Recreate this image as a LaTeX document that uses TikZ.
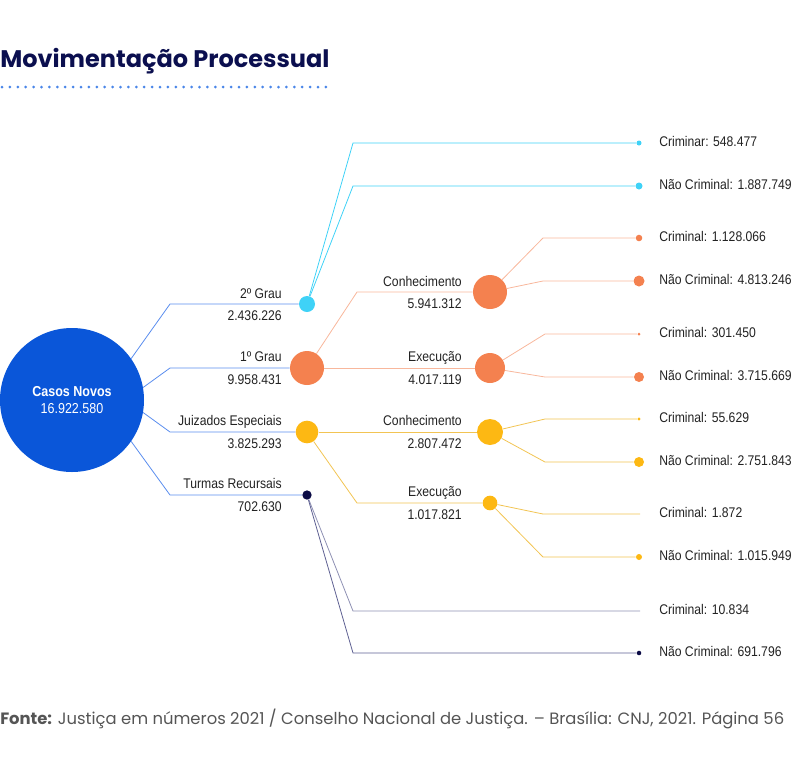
\documentclass[tikz,border=0pt]{standalone}
\usepackage{fontspec}
\setmainfont{Liberation Sans}[FakeStretch=0.87]
\newfontfamily\poppins{Poppins}
\definecolor{casosblue}{HTML}{0A56D9}
\definecolor{linkblue}{HTML}{5A8DEE}
\definecolor{pontoblue}{HTML}{4A86E8}
\definecolor{grauc}{HTML}{3FD2F7}
\definecolor{laranja}{HTML}{F4814F}
\definecolor{laranjalink}{HTML}{F8B79C}
\definecolor{amarelo}{HTML}{FDB813}
\definecolor{amarelolink}{HTML}{F2C453}
\definecolor{marinho}{HTML}{0B0B45}
\definecolor{marinholink}{HTML}{5E6092}
\definecolor{titulonavy}{HTML}{0B0F4F}
\definecolor{textogray}{HTML}{222222}
\definecolor{fontegray}{HTML}{555555}

\begin{document}
\begin{tikzpicture}[x=0.75pt,y=-0.75pt,
        bola/.style={circle,fill=#1,inner sep=0pt},
        lig/.style={draw=#1,line width=0.6pt},
        rotulo/.style={inner sep=0pt,text=textogray,font=\fontsize{10.5}{12}\selectfont},
        folha/.style={rotulo,anchor=mid west}]
        \useasboundingbox (0,0) rectangle (800,772) ;
        % titulo e pontilhado
        \node[anchor=base west,inner sep=0pt,text=titulonavy,
          font=\poppins\bfseries\fontsize{18}{21}\selectfont] (titulo) at (0,67) {Movimentação Processual} ;
        \foreach \i in {0,...,41}
          \fill[pontoblue] (2+\i*7.9,87) circle (1.5) ;
        % circulo principal
        \node[bola=casosblue,minimum size=108pt,text=white,align=center,
          font=\fontsize{10.8}{12.5}\selectfont] (casos) at (72,400)
          {\textbf{Casos Novos}\\16.922.580} ;
        % primeiro nivel
        \node[bola=grauc,minimum size=12pt] (grau2) at (307,304) {} ;
        \node[bola=laranja,minimum size=25.5pt] (grau1) at (307,368) {} ;
        \node[bola=amarelo,minimum size=17pt] (juiz) at (307,432) {} ;
        \node[bola=marinho,minimum size=7pt] (turmas) at (307,495) {} ;
        \coordinate (kg2) at (170,304) ;
        \coordinate (kg1) at (170,368) ;
        \coordinate (kju) at (170,432) ;
        \coordinate (ktu) at (170,495) ;
        \draw[lig=linkblue] (casos.35) -- (kg2) -- (grau2) ;
        \draw[lig=linkblue] (casos.10) -- (kg1) -- (grau1) ;
        \draw[lig=linkblue] (casos.-10) -- (kju) -- (juiz) ;
        \draw[lig=linkblue] (casos.-35) -- (ktu) -- (turmas) ;
        \node[rotulo,anchor=base east] (grau2a) at (282,298) {2º Grau} ;
        \node[rotulo,anchor=base east] (grau2b) at (282,320) {2.436.226} ;
        \node[rotulo,anchor=base east] (grau1a) at (282,361) {1º Grau} ;
        \node[rotulo,anchor=base east] (grau1b) at (282,384) {9.958.431} ;
        \node[rotulo,anchor=base east] (juiza) at (282,425) {Juizados Especiais} ;
        \node[rotulo,anchor=base east] (juizb) at (282,448) {3.825.293} ;
        \node[rotulo,anchor=base east] (turmasa) at (282,488) {Turmas Recursais} ;
        \node[rotulo,anchor=base east] (turmasb) at (282,511) {702.630} ;
        % segundo nivel
        \node[bola=laranja,minimum size=25.5pt] (conh1) at (490,292) {} ;
        \node[bola=laranja,minimum size=22.5pt] (exec1) at (490,368) {} ;
        \node[bola=amarelo,minimum size=19.5pt] (conh2) at (490,432) {} ;
        \node[bola=amarelo,minimum size=11pt] (exec2) at (490,503) {} ;
        \coordinate (kc1) at (357,292) ;
        \coordinate (ke2) at (357,503) ;
        \draw[lig=laranjalink] (grau1) -- (kc1) -- (conh1) ;
        \draw[lig=laranjalink] (grau1) -- (exec1) ;
        \draw[lig=amarelolink] (juiz) -- (conh2) ;
        \draw[lig=amarelolink] (juiz) -- (ke2) -- (exec2) ;
        \node[rotulo,anchor=base east] (conh1a) at (462,286) {Conhecimento} ;
        \node[rotulo,anchor=base east] (conh1b) at (462,308) {5.941.312} ;
        \node[rotulo,anchor=base east] (exec1a) at (462,361) {Execução} ;
        \node[rotulo,anchor=base east] (exec1b) at (462,384) {4.017.119} ;
        \node[rotulo,anchor=base east] (conh2a) at (462,425) {Conhecimento} ;
        \node[rotulo,anchor=base east] (conh2b) at (462,448) {2.807.472} ;
        \node[rotulo,anchor=base east] (exec2a) at (462,496) {Execução} ;
        \node[rotulo,anchor=base east] (exec2b) at (462,519) {1.017.821} ;
        % folhas
        \node[bola=grauc,minimum size=3.75pt] (f1) at (639,143) {} ;
        \node[bola=grauc,minimum size=5.25pt] (f2) at (639,186) {} ;
        \node[bola=laranja,minimum size=4.9pt] (f3) at (639,238) {} ;
        \node[bola=laranja,minimum size=8.25pt] (f4) at (639,281) {} ;
        \node[bola=laranja,minimum size=2.25pt] (f5) at (639,334) {} ;
        \node[bola=laranja,minimum size=7.5pt] (f6) at (639,377) {} ;
        \node[bola=amarelo,minimum size=2.6pt] (f7) at (639,419) {} ;
        \node[bola=amarelo,minimum size=7.5pt] (f8) at (639,462) {} ;
        \coordinate (f9) at (640,514) ;
        \node[bola=amarelo,minimum size=4.5pt] (f10) at (639,557) {} ;
        \coordinate (f11) at (640,611) ;
        \node[bola=marinho,minimum size=3.4pt] (f12) at (639,653) {} ;
        \draw[lig=grauc] (grau2) -- (353,143) -- (f1) ;
        \draw[lig=grauc] (grau2) -- (353,186) -- (f2) ;
        \draw[lig=laranjalink] (conh1) -- (543,238) -- (f3) ;
        \draw[lig=laranjalink] (conh1) -- (543,281) -- (f4) ;
        \draw[lig=laranjalink] (exec1) -- (545,334) -- (f5) ;
        \draw[lig=laranjalink] (exec1) -- (545,377) -- (f6) ;
        \draw[lig=amarelolink] (conh2) -- (545,419) -- (f7) ;
        \draw[lig=amarelolink] (conh2) -- (545,462) -- (f8) ;
        \draw[lig=amarelolink] (exec2) -- (543,514) -- (f9) ;
        \draw[lig=amarelolink] (exec2) -- (543,557) -- (f10) ;
        \draw[lig=marinholink!70] (turmas) -- (353,611) -- (f11) ;
        \draw[lig=marinholink] (turmas) -- (353,653) -- (f12) ;
        \node[folha] (t1) at (659,143) {Criminar: 548.477} ;
        \node[folha] (t2) at (659,186) {Não Criminal: 1.887.749} ;
        \node[folha] (t3) at (659,238) {Criminal: 1.128.066} ;
        \node[folha] (t4) at (659,281) {Não Criminal: 4.813.246} ;
        \node[folha] (t5) at (659,334) {Criminal: 301.450} ;
        \node[folha] (t6) at (659,377) {Não Criminal: 3.715.669} ;
        \node[folha] (t7) at (659,419) {Criminal: 55.629} ;
        \node[folha] (t8) at (659,462) {Não Criminal: 2.751.843} ;
        \node[folha] (t9) at (659,514) {Criminal: 1.872} ;
        \node[folha] (t10) at (659,557) {Não Criminal: 1.015.949} ;
        \node[folha] (t11) at (659,611) {Criminal: 10.834} ;
        \node[folha] (t12) at (659,653) {Não Criminal: 691.796} ;
        % fonte
        \node[anchor=base west,inner sep=0pt,text=fontegray,
          font=\poppins\fontsize{12.3}{14}\selectfont] (fonte) at (0,724)
          {\textbf{Fonte:} Justiça em números 2021 / Conselho Nacional de Justiça. – Brasília: CNJ, 2021. Página 56} ;
\end{tikzpicture}
\end{document}
